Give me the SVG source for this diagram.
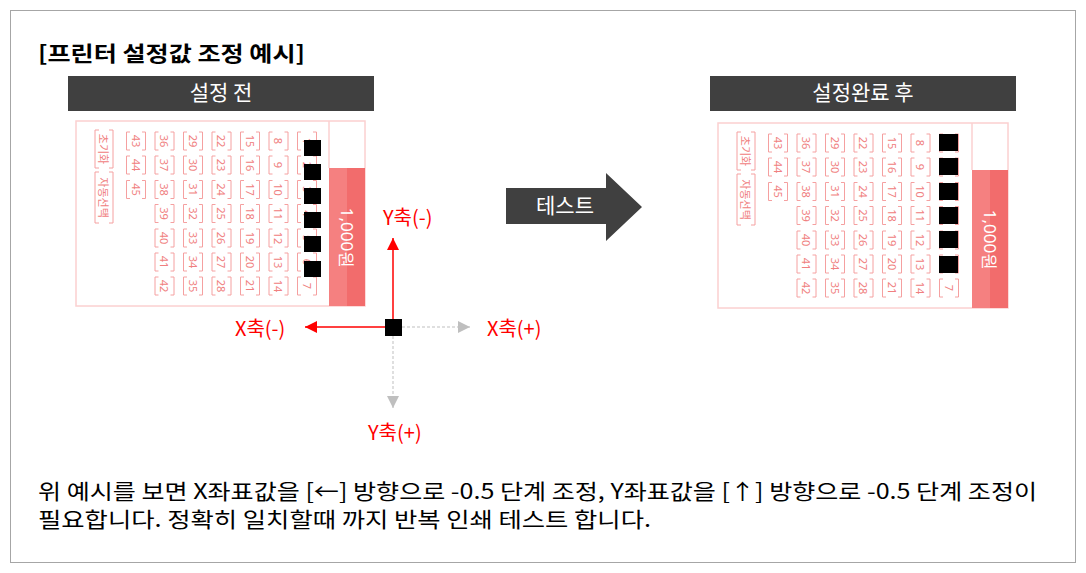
<svg xmlns="http://www.w3.org/2000/svg" xmlns:xlink="http://www.w3.org/1999/xlink" width="1086" height="573" viewBox="0 0 1086 573">
<style>
.k{font-family:"Noto Sans CJK KR","Noto Sans",sans-serif}
.ttl{font-size:21px;font-weight:bold;fill:#000}
.hd{font-size:21px;fill:#fff;text-anchor:middle}
.ax{font-size:20px;fill:#ff0000}
.body{font-size:21px;fill:#000}
.n{font-family:"Noto Sans","DejaVu Sans",sans-serif;font-size:11px;fill:#f08080;text-anchor:middle;dominant-baseline:central}
.kv{font-family:"Noto Sans CJK KR",sans-serif;font-size:11px;fill:#f08080;text-anchor:middle;dominant-baseline:central}
.br{fill:none;stroke:#f5a0a0;stroke-width:1}
.frame{fill:#fff;stroke:#fbd0d0;stroke-width:1.5}
.price{font-family:"Noto Sans","DejaVu Sans",sans-serif;font-size:17px;fill:#fff;text-anchor:middle;dominant-baseline:central}
</style>
<defs>
<path id="b" class="br" d="M-6,-9h-3.5v18h3.5M6,-9h3.5v18h-3.5"/>
<marker id="mr" markerUnits="userSpaceOnUse" markerWidth="12" markerHeight="12" refX="12" refY="6" orient="auto"><path d="M0,0L12,6L0,12z" fill="#ff0000"/></marker>
<marker id="mg" markerUnits="userSpaceOnUse" markerWidth="12" markerHeight="12" refX="12" refY="6" orient="auto"><path d="M0,0L12,6L0,12z" fill="#bfbfbf"/></marker>
</defs>
<rect x="0" y="0" width="1086" height="573" fill="#fff"/>
<rect x="10.5" y="10.5" width="1065" height="552" fill="none" stroke="#a6a6a6" stroke-width="1"/>

<g id="title"><text class="k ttl" x="38" y="61" textLength="267" lengthAdjust="spacingAndGlyphs">[프린터 설정값 조정 예시]</text></g>

<g id="header-before"><rect x="68" y="76" width="306" height="35" fill="#404040"/><text class="k hd" x="221" y="100">설정 전</text></g>
<g id="header-after"><rect x="710" y="76" width="306" height="35" fill="#404040"/><text class="k hd" x="863" y="100">설정완료 후</text></g>

<g id="ticket-before" transform="translate(76,121)">
<rect class="frame" x="0" y="0" width="289" height="185"/>
<line x1="253" y1="0" x2="253" y2="47" stroke="#fbd0d0" stroke-width="1.5"/>
<rect x="253" y="47" width="36" height="138" fill="#f26c6c"/>
<rect x="253" y="47" width="18" height="138" fill="#f58080"/>
<text class="price" transform="translate(271,117) rotate(90)">1,000원</text>
<path class="br" d="M23,9h-4v38h4M33,9h4v38h-4M23,51h-4v51h4M33,51h4v51h-4"/>
<text class="kv" transform="translate(28,28) rotate(90)">초기화</text>
<text class="kv" transform="translate(28,76.5) rotate(90)">자동선택</text>
<use xlink:href="#b" x="60" y="20"/><use xlink:href="#b" x="60" y="44"/><use xlink:href="#b" x="60" y="68.5"/>
<use xlink:href="#b" x="88.5" y="20"/><use xlink:href="#b" x="88.5" y="44"/><use xlink:href="#b" x="88.5" y="68.5"/><use xlink:href="#b" x="88.5" y="92.5"/><use xlink:href="#b" x="88.5" y="117"/><use xlink:href="#b" x="88.5" y="141"/><use xlink:href="#b" x="88.5" y="165"/>
<use xlink:href="#b" x="117" y="20"/><use xlink:href="#b" x="117" y="44"/><use xlink:href="#b" x="117" y="68.5"/><use xlink:href="#b" x="117" y="92.5"/><use xlink:href="#b" x="117" y="117"/><use xlink:href="#b" x="117" y="141"/><use xlink:href="#b" x="117" y="165"/>
<use xlink:href="#b" x="145.5" y="20"/><use xlink:href="#b" x="145.5" y="44"/><use xlink:href="#b" x="145.5" y="68.5"/><use xlink:href="#b" x="145.5" y="92.5"/><use xlink:href="#b" x="145.5" y="117"/><use xlink:href="#b" x="145.5" y="141"/><use xlink:href="#b" x="145.5" y="165"/>
<use xlink:href="#b" x="174" y="20"/><use xlink:href="#b" x="174" y="44"/><use xlink:href="#b" x="174" y="68.5"/><use xlink:href="#b" x="174" y="92.5"/><use xlink:href="#b" x="174" y="117"/><use xlink:href="#b" x="174" y="141"/><use xlink:href="#b" x="174" y="165"/>
<use xlink:href="#b" x="202.5" y="20"/><use xlink:href="#b" x="202.5" y="44"/><use xlink:href="#b" x="202.5" y="68.5"/><use xlink:href="#b" x="202.5" y="92.5"/><use xlink:href="#b" x="202.5" y="117"/><use xlink:href="#b" x="202.5" y="141"/><use xlink:href="#b" x="202.5" y="165"/>
<use xlink:href="#b" x="231" y="20"/><use xlink:href="#b" x="231" y="44"/><use xlink:href="#b" x="231" y="68.5"/><use xlink:href="#b" x="231" y="92.5"/><use xlink:href="#b" x="231" y="117"/><use xlink:href="#b" x="231" y="141"/><use xlink:href="#b" x="231" y="165"/>
<text class="n" transform="translate(60,20) rotate(90)">43</text><text class="n" transform="translate(60,44) rotate(90)">44</text><text class="n" transform="translate(60,68.5) rotate(90)">45</text>
<text class="n" transform="translate(88.5,20) rotate(90)">36</text><text class="n" transform="translate(88.5,44) rotate(90)">37</text><text class="n" transform="translate(88.5,68.5) rotate(90)">38</text><text class="n" transform="translate(88.5,92.5) rotate(90)">39</text><text class="n" transform="translate(88.5,117) rotate(90)">40</text><text class="n" transform="translate(88.5,141) rotate(90)">41</text><text class="n" transform="translate(88.5,165) rotate(90)">42</text>
<text class="n" transform="translate(117,20) rotate(90)">29</text><text class="n" transform="translate(117,44) rotate(90)">30</text><text class="n" transform="translate(117,68.5) rotate(90)">31</text><text class="n" transform="translate(117,92.5) rotate(90)">32</text><text class="n" transform="translate(117,117) rotate(90)">33</text><text class="n" transform="translate(117,141) rotate(90)">34</text><text class="n" transform="translate(117,165) rotate(90)">35</text>
<text class="n" transform="translate(145.5,20) rotate(90)">22</text><text class="n" transform="translate(145.5,44) rotate(90)">23</text><text class="n" transform="translate(145.5,68.5) rotate(90)">24</text><text class="n" transform="translate(145.5,92.5) rotate(90)">25</text><text class="n" transform="translate(145.5,117) rotate(90)">26</text><text class="n" transform="translate(145.5,141) rotate(90)">27</text><text class="n" transform="translate(145.5,165) rotate(90)">28</text>
<text class="n" transform="translate(174,20) rotate(90)">15</text><text class="n" transform="translate(174,44) rotate(90)">16</text><text class="n" transform="translate(174,68.5) rotate(90)">17</text><text class="n" transform="translate(174,92.5) rotate(90)">18</text><text class="n" transform="translate(174,117) rotate(90)">19</text><text class="n" transform="translate(174,141) rotate(90)">20</text><text class="n" transform="translate(174,165) rotate(90)">21</text>
<text class="n" transform="translate(202.5,20) rotate(90)">8</text><text class="n" transform="translate(202.5,44) rotate(90)">9</text><text class="n" transform="translate(202.5,68.5) rotate(90)">10</text><text class="n" transform="translate(202.5,92.5) rotate(90)">11</text><text class="n" transform="translate(202.5,117) rotate(90)">12</text><text class="n" transform="translate(202.5,141) rotate(90)">13</text><text class="n" transform="translate(202.5,165) rotate(90)">14</text>
<text class="n" transform="translate(231,20) rotate(90)">1</text><text class="n" transform="translate(231,44) rotate(90)">2</text><text class="n" transform="translate(231,68.5) rotate(90)">3</text><text class="n" transform="translate(231,92.5) rotate(90)">4</text><text class="n" transform="translate(231,117) rotate(90)">5</text><text class="n" transform="translate(231,141) rotate(90)">6</text><text class="n" transform="translate(231,165) rotate(90)">7</text>
<g fill="#000"><rect x="228" y="19" width="17" height="16"/><rect x="228" y="43" width="17" height="16"/><rect x="228" y="67" width="17" height="16"/><rect x="228" y="91" width="17" height="16"/><rect x="228" y="115" width="17" height="16"/><rect x="228" y="140" width="17" height="16"/></g>
</g>

<g id="ticket-after" transform="translate(718,123)">
<rect class="frame" x="0" y="0" width="290" height="185"/>
<line x1="254" y1="0" x2="254" y2="47" stroke="#fbd0d0" stroke-width="1.5"/>
<rect x="254" y="47" width="36" height="138" fill="#f26c6c"/>
<rect x="254" y="47" width="18" height="138" fill="#f58080"/>
<text class="price" transform="translate(272,117) rotate(90)">1,000원</text>
<path class="br" d="M23,9h-4v38h4M33,9h4v38h-4M23,51h-4v51h4M33,51h4v51h-4"/>
<text class="kv" transform="translate(28,28) rotate(90)">초기화</text>
<text class="kv" transform="translate(28,76.5) rotate(90)">자동선택</text>
<use xlink:href="#b" x="60" y="20"/><use xlink:href="#b" x="60" y="44"/><use xlink:href="#b" x="60" y="68.5"/>
<use xlink:href="#b" x="88.5" y="20"/><use xlink:href="#b" x="88.5" y="44"/><use xlink:href="#b" x="88.5" y="68.5"/><use xlink:href="#b" x="88.5" y="92.5"/><use xlink:href="#b" x="88.5" y="117"/><use xlink:href="#b" x="88.5" y="141"/><use xlink:href="#b" x="88.5" y="165"/>
<use xlink:href="#b" x="117" y="20"/><use xlink:href="#b" x="117" y="44"/><use xlink:href="#b" x="117" y="68.5"/><use xlink:href="#b" x="117" y="92.5"/><use xlink:href="#b" x="117" y="117"/><use xlink:href="#b" x="117" y="141"/><use xlink:href="#b" x="117" y="165"/>
<use xlink:href="#b" x="145.5" y="20"/><use xlink:href="#b" x="145.5" y="44"/><use xlink:href="#b" x="145.5" y="68.5"/><use xlink:href="#b" x="145.5" y="92.5"/><use xlink:href="#b" x="145.5" y="117"/><use xlink:href="#b" x="145.5" y="141"/><use xlink:href="#b" x="145.5" y="165"/>
<use xlink:href="#b" x="174" y="20"/><use xlink:href="#b" x="174" y="44"/><use xlink:href="#b" x="174" y="68.5"/><use xlink:href="#b" x="174" y="92.5"/><use xlink:href="#b" x="174" y="117"/><use xlink:href="#b" x="174" y="141"/><use xlink:href="#b" x="174" y="165"/>
<use xlink:href="#b" x="202.5" y="20"/><use xlink:href="#b" x="202.5" y="44"/><use xlink:href="#b" x="202.5" y="68.5"/><use xlink:href="#b" x="202.5" y="92.5"/><use xlink:href="#b" x="202.5" y="117"/><use xlink:href="#b" x="202.5" y="141"/><use xlink:href="#b" x="202.5" y="165"/>
<use xlink:href="#b" x="231" y="20"/><use xlink:href="#b" x="231" y="44"/><use xlink:href="#b" x="231" y="68.5"/><use xlink:href="#b" x="231" y="92.5"/><use xlink:href="#b" x="231" y="117"/><use xlink:href="#b" x="231" y="141"/><use xlink:href="#b" x="231" y="165"/>
<text class="n" transform="translate(60,20) rotate(90)">43</text><text class="n" transform="translate(60,44) rotate(90)">44</text><text class="n" transform="translate(60,68.5) rotate(90)">45</text>
<text class="n" transform="translate(88.5,20) rotate(90)">36</text><text class="n" transform="translate(88.5,44) rotate(90)">37</text><text class="n" transform="translate(88.5,68.5) rotate(90)">38</text><text class="n" transform="translate(88.5,92.5) rotate(90)">39</text><text class="n" transform="translate(88.5,117) rotate(90)">40</text><text class="n" transform="translate(88.5,141) rotate(90)">41</text><text class="n" transform="translate(88.5,165) rotate(90)">42</text>
<text class="n" transform="translate(117,20) rotate(90)">29</text><text class="n" transform="translate(117,44) rotate(90)">30</text><text class="n" transform="translate(117,68.5) rotate(90)">31</text><text class="n" transform="translate(117,92.5) rotate(90)">32</text><text class="n" transform="translate(117,117) rotate(90)">33</text><text class="n" transform="translate(117,141) rotate(90)">34</text><text class="n" transform="translate(117,165) rotate(90)">35</text>
<text class="n" transform="translate(145.5,20) rotate(90)">22</text><text class="n" transform="translate(145.5,44) rotate(90)">23</text><text class="n" transform="translate(145.5,68.5) rotate(90)">24</text><text class="n" transform="translate(145.5,92.5) rotate(90)">25</text><text class="n" transform="translate(145.5,117) rotate(90)">26</text><text class="n" transform="translate(145.5,141) rotate(90)">27</text><text class="n" transform="translate(145.5,165) rotate(90)">28</text>
<text class="n" transform="translate(174,20) rotate(90)">15</text><text class="n" transform="translate(174,44) rotate(90)">16</text><text class="n" transform="translate(174,68.5) rotate(90)">17</text><text class="n" transform="translate(174,92.5) rotate(90)">18</text><text class="n" transform="translate(174,117) rotate(90)">19</text><text class="n" transform="translate(174,141) rotate(90)">20</text><text class="n" transform="translate(174,165) rotate(90)">21</text>
<text class="n" transform="translate(202.5,20) rotate(90)">8</text><text class="n" transform="translate(202.5,44) rotate(90)">9</text><text class="n" transform="translate(202.5,68.5) rotate(90)">10</text><text class="n" transform="translate(202.5,92.5) rotate(90)">11</text><text class="n" transform="translate(202.5,117) rotate(90)">12</text><text class="n" transform="translate(202.5,141) rotate(90)">13</text><text class="n" transform="translate(202.5,165) rotate(90)">14</text>
<text class="n" transform="translate(231,20) rotate(90)">1</text><text class="n" transform="translate(231,44) rotate(90)">2</text><text class="n" transform="translate(231,68.5) rotate(90)">3</text><text class="n" transform="translate(231,92.5) rotate(90)">4</text><text class="n" transform="translate(231,117) rotate(90)">5</text><text class="n" transform="translate(231,141) rotate(90)">6</text><text class="n" transform="translate(231,165) rotate(90)">7</text>
<g fill="#000"><rect x="221" y="11" width="19" height="17"/><rect x="221" y="35" width="19" height="17"/><rect x="221" y="60" width="19" height="17"/><rect x="221" y="84" width="19" height="17"/><rect x="221" y="108" width="19" height="17"/><rect x="221" y="133" width="19" height="17"/></g>
</g>

<g id="test-arrow">
<path d="M506,188H606V173L642,207L606,241V224H506Z" fill="#404040"/>
<text class="k hd" x="565" y="213">테스트</text>
</g>

<g id="connectors">
<line x1="393" y1="319" x2="393" y2="238" stroke="#ff0000" stroke-width="1.5" marker-end="url(#mr)"/>
<line x1="385" y1="327" x2="305" y2="327" stroke="#ff0000" stroke-width="1.5" marker-end="url(#mr)"/>
<line x1="402" y1="327" x2="470" y2="327" stroke="#bfbfbf" stroke-width="1" stroke-dasharray="3,2" marker-end="url(#mg)"/>
<line x1="393" y1="336" x2="393" y2="408" stroke="#bfbfbf" stroke-width="1" stroke-dasharray="3,2" marker-end="url(#mg)"/>
</g>
<g id="origin"><rect x="385" y="319" width="17" height="17" fill="#000"/></g>

<g id="axis-labels">
<text class="k ax" x="383" y="225">Y축(-)</text>
<text class="k ax" x="235" y="336">X축(-)</text>
<text class="k ax" x="487" y="336">X축(+)</text>
<text class="k ax" x="368" y="440">Y축(+)</text>
</g>

<g id="description">
<text class="k body" x="38" y="499" textLength="999" lengthAdjust="spacingAndGlyphs">위 예시를 보면 X좌표값을 [←] 방향으로 -0.5 단계 조정, Y좌표값을 [↑] 방향으로 -0.5 단계 조정이</text>
<text class="k body" x="38" y="527" textLength="613" lengthAdjust="spacingAndGlyphs">필요합니다. 정확히 일치할때 까지 반복 인쇄 테스트 합니다.</text>
</g>
</svg>
